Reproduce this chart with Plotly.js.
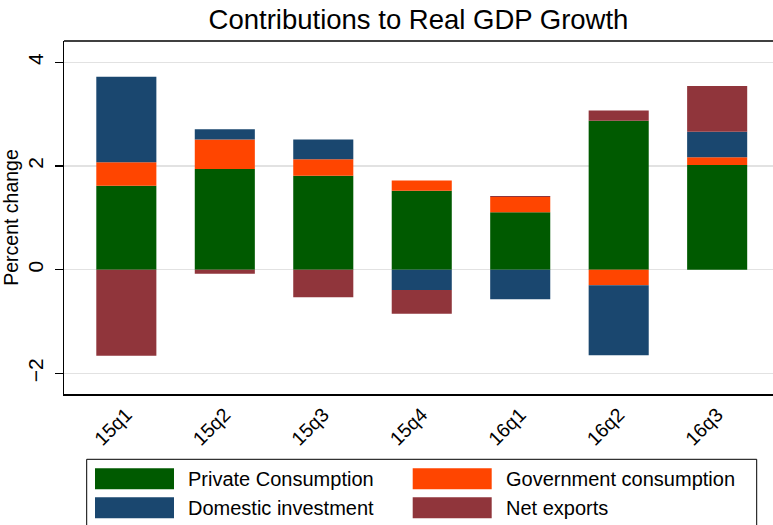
<!DOCTYPE html>
<html>
<head>
<meta charset="utf-8">
<script src="https://cdn.plot.ly/plotly-3.0.1.min.js"></script>
<style>html,body{margin:0;padding:0;background:#fff;}#chart{width:773px;height:525px;}</style>
</head>
<body>
<div id="chart"></div>
<script>
// ---- data ----
var quarters = ["15q1", "15q2", "15q3", "15q4", "16q1", "16q2", "16q3"];
var privateConsumption = [1.62, 1.94, 1.81, 1.52, 1.11, 2.87, 2.02];
var governmentConsumption = [0.45, 0.57, 0.32, 0.20, 0.29, -0.30, 0.15];
var domesticInvestment = [1.65, 0.20, 0.38, -0.39, -0.57, -1.35, 0.49];
var netExports = [-1.66, -0.08, -0.53, -0.46, 0.02, 0.20, 0.88];
var seriesNames = ["Private Consumption", "Government consumption", "Domestic investment", "Net exports"];
var yTicks = [-2, 0, 2, 4];

// ---- styles ----
var colors = ["#005a00", "#ff4500", "#1a476f", "#90353b"];
var seriesValues = [privateConsumption, governmentConsumption, domesticInvestment, netExports];
var xIdx = quarters.map(function (q, i) { return i; });

var traces = seriesValues.map(function (vals, k) {
  return {
    type: "bar",
    x: xIdx,
    y: vals,
    name: seriesNames[k],
    marker: { color: colors[k], line: { width: 0 } },
    showlegend: false,
    hoverinfo: "name+y"
  };
});

var W = 773, H = 525;
var mL = 64, mR = 0, mT = 41, mB = 131;
var pw = W - mL - mR, ph = H - mT - mB;
function px(x) { return (x - mL) / pw; }
function py(y) { return (H - mB - y) / ph; }

var shapes = [
  { type: "line", xref: "paper", yref: "paper", x0: 0, x1: 1, y0: 1, y1: 1, line: { color: "#000", width: 1.5 } },
  { type: "rect", xref: "paper", yref: "paper", x0: px(86.7), x1: px(756.7), y0: py(459.3), y1: py(535), line: { color: "#000", width: 1 }, fillcolor: "rgba(0,0,0,0)" }
];
var annotations = [];
var legCols = [95, 412.7], legRows = [468.3, 497.3];
for (var k = 0; k < seriesNames.length; k++) {
  var c = k % 2, r = Math.floor(k / 2);
  var x0 = legCols[c], y0 = legRows[r];
  shapes.push({ type: "rect", xref: "paper", yref: "paper", x0: px(x0), x1: px(x0 + 79), y0: py(y0), y1: py(y0 + 21), line: { width: 0 }, fillcolor: colors[k] });
  annotations.push({ xref: "paper", yref: "paper", x: px(x0 + 91), y: py(y0 + 10.5), xanchor: "left", yanchor: "middle", showarrow: false, text: seriesNames[k], font: { family: "Liberation Sans, Arial, sans-serif", size: 20, color: "#000" } });
}

var layout = {
  width: W, height: H,
  margin: { l: mL, r: mR, t: mT, b: mB, pad: 0 },
  paper_bgcolor: "#fff", plot_bgcolor: "#fff",
  font: { family: "Liberation Sans, Arial, sans-serif", color: "#000" },
  title: { text: "Contributions to Real GDP Growth", font: { size: 27.5, color: "#000" }, xref: "paper", x: 0.5, xanchor: "center", yref: "container", y: 1 - 19 / H, yanchor: "middle" },
  barmode: "relative",
  bargap: 0.39,
  xaxis: {
    range: [-0.633, 6.567],
    tickmode: "array", tickvals: xIdx, ticktext: quarters,
    tickangle: -45, tickfont: { size: 19.5 },
    ticks: "", showgrid: false, zeroline: false,
    showline: true, linecolor: "#000", linewidth: 1.5,
    fixedrange: true
  },
  yaxis: {
    range: [-2.397, 4.41],
    tickmode: "array", tickvals: yTicks, ticktext: yTicks.map(function (v) { return v < 0 ? "\u2212" + Math.abs(v) : String(v); }),
    tickangle: -90, tickfont: { size: 21 },
    ticks: "outside", ticklen: 8, tickwidth: 1.3, tickcolor: "#000",
    ticklabelstandoff: 3,
    showgrid: true, gridcolor: "#e2e2e2", gridwidth: 1.5,
    zeroline: false,
    showline: true, linecolor: "#000", linewidth: 1.5,
    title: { text: "Percent change", font: { size: 19.5 }, standoff: 0 },
    fixedrange: true
  },
  shapes: shapes,
  annotations: annotations
};

Plotly.newPlot("chart", traces, layout, { displayModeBar: false, staticPlot: true });
</script>
</body>
</html>
